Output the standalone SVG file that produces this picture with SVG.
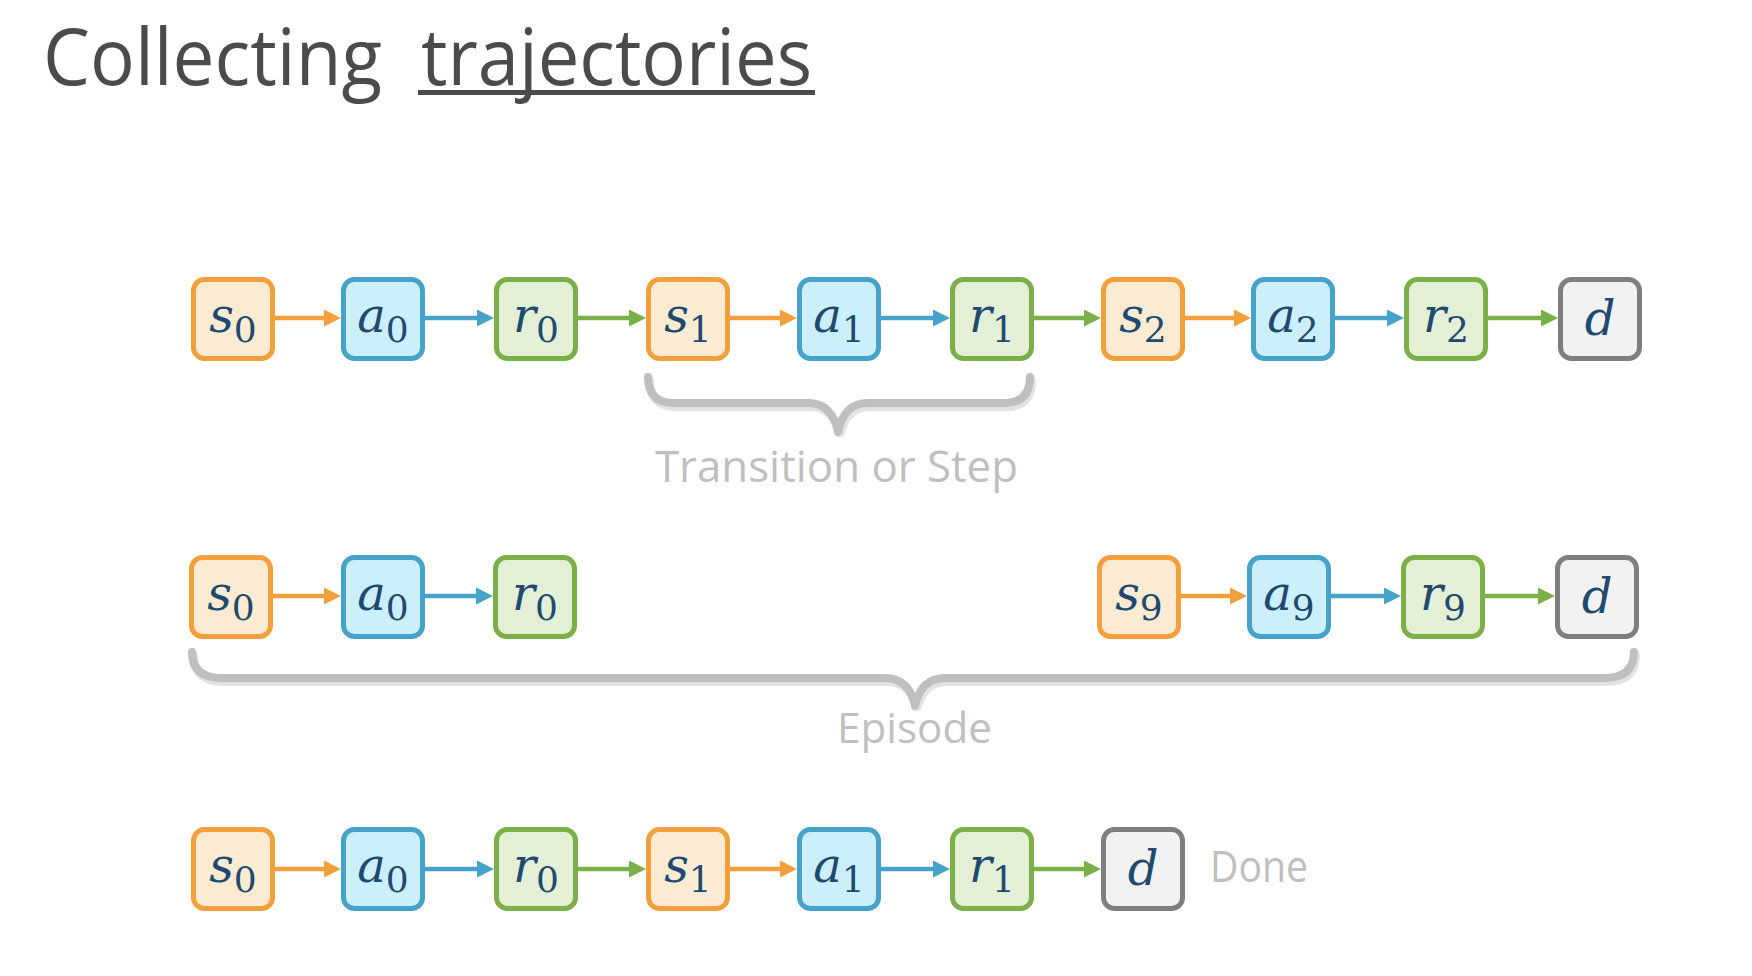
<svg xmlns="http://www.w3.org/2000/svg" width="1752" height="976" viewBox="0 0 1752 976">
<style>
.bx{stroke-width:5}
.o{fill:#FCEBD3;stroke:#F2A03D}
.b{fill:#CCF0FB;stroke:#46A2C9}
.g{fill:#E3F0D6;stroke:#7BAF47}
.k{fill:#F2F2F2;stroke:#7F7F7F}
.v{font-family:"DejaVu Serif",serif;font-style:italic;font-size:48px;fill:#1F4A70;text-anchor:middle}
.sub{font-style:normal;font-size:36px}
.lbl{font-family:"Open Sans","Liberation Sans",sans-serif;fill:#BFBFBF}
.ao{stroke:#F2A03D;stroke-width:4.5;fill:none;marker-end:url(#mo)}
.ab{stroke:#46A2C9;stroke-width:4.5;fill:none;marker-end:url(#mb)}
.ag{stroke:#7BAF47;stroke-width:4.5;fill:none;marker-end:url(#mg)}
.br{fill:none;stroke:#BFBFBF;stroke-width:8;stroke-linecap:round;stroke-linejoin:round}
.brs{fill:none;stroke:#E3E3E3;stroke-width:8;stroke-linecap:round}
</style>
<defs>
<marker id="mo" viewBox="0 0 17 17" refX="7" refY="8.5" markerWidth="17" markerHeight="17" markerUnits="userSpaceOnUse" orient="auto"><path d="M0,0 L17,8.5 L0,17 z" fill="#F2A03D"/></marker>
<marker id="mb" viewBox="0 0 17 17" refX="7" refY="8.5" markerWidth="17" markerHeight="17" markerUnits="userSpaceOnUse" orient="auto"><path d="M0,0 L17,8.5 L0,17 z" fill="#46A2C9"/></marker>
<marker id="mg" viewBox="0 0 17 17" refX="7" refY="8.5" markerWidth="17" markerHeight="17" markerUnits="userSpaceOnUse" orient="auto"><path d="M0,0 L17,8.5 L0,17 z" fill="#7BAF47"/></marker>
</defs>
<rect width="1752" height="976" fill="#FFFFFF"/>

<g id="title">
<text x="43" y="85" font-family="'Open Sans','Liberation Sans',sans-serif" font-size="78" fill="#4B4B4B" textLength="339" lengthAdjust="spacingAndGlyphs">Collecting</text>
<text x="421" y="85" font-family="'Open Sans','Liberation Sans',sans-serif" font-size="78" fill="#4B4B4B" textLength="391" lengthAdjust="spacingAndGlyphs">trajectories</text>
<rect x="418" y="90" width="397" height="5" fill="#4B4B4B"/>
</g>

<g id="connectors">
<path class="ao" d="M275 318 H331"/>
<path class="ab" d="M425 318 H484"/>
<path class="ag" d="M578 318 H636"/>
<path class="ao" d="M730 318 H787"/>
<path class="ab" d="M881 318 H940"/>
<path class="ag" d="M1034 318 H1091"/>
<path class="ao" d="M1185 318 H1241"/>
<path class="ab" d="M1335 318 H1394"/>
<path class="ag" d="M1488 318 H1548"/>
<path class="ao" d="M273 596 H331"/>
<path class="ab" d="M425 596 H483"/>
<path class="ao" d="M1181 596 H1237"/>
<path class="ab" d="M1331 596 H1391"/>
<path class="ag" d="M1485 596 H1545"/>
<path class="ao" d="M275 869 H331"/>
<path class="ab" d="M425 869 H484"/>
<path class="ag" d="M578 869 H636"/>
<path class="ao" d="M730 869 H787"/>
<path class="ab" d="M881 869 H940"/>
<path class="ag" d="M1034 869 H1091"/>
</g>

<g id="r1-s0"><rect class="bx o" x="193.5" y="279.5" width="79" height="79" rx="11"/><text class="v" x="233" y="332">s<tspan class="sub" dy="10">0</tspan></text></g>
<g id="r1-a0"><rect class="bx b" x="343.5" y="279.5" width="79" height="79" rx="11"/><text class="v" x="383" y="332">a<tspan class="sub" dy="10">0</tspan></text></g>
<g id="r1-r0"><rect class="bx g" x="496.5" y="279.5" width="79" height="79" rx="11"/><text class="v" x="536" y="332">r<tspan class="sub" dy="10">0</tspan></text></g>
<g id="r1-s1"><rect class="bx o" x="648.5" y="279.5" width="79" height="79" rx="11"/><text class="v" x="688" y="332">s<tspan class="sub" dy="10">1</tspan></text></g>
<g id="r1-a1"><rect class="bx b" x="799.5" y="279.5" width="79" height="79" rx="11"/><text class="v" x="839" y="332">a<tspan class="sub" dy="10">1</tspan></text></g>
<g id="r1-r1"><rect class="bx g" x="952.5" y="279.5" width="79" height="79" rx="11"/><text class="v" x="992" y="332">r<tspan class="sub" dy="10">1</tspan></text></g>
<g id="r1-s2"><rect class="bx o" x="1103.5" y="279.5" width="79" height="79" rx="11"/><text class="v" x="1143" y="332">s<tspan class="sub" dy="10">2</tspan></text></g>
<g id="r1-a2"><rect class="bx b" x="1253.5" y="279.5" width="79" height="79" rx="11"/><text class="v" x="1293" y="332">a<tspan class="sub" dy="10">2</tspan></text></g>
<g id="r1-r2"><rect class="bx g" x="1406.5" y="279.5" width="79" height="79" rx="11"/><text class="v" x="1446" y="332">r<tspan class="sub" dy="10">2</tspan></text></g>
<g id="r1-d"><rect class="bx k" x="1560.5" y="279.5" width="79" height="79" rx="11"/><text class="v" x="1600" y="335">d</text></g>

<g id="brace-step">
<path class="brs" d="M650 380 Q650 407 676 407 L810 407 Q834 407 840 436 Q846 407 870 407 L1006 407 Q1032 407 1032 380"/>
<path class="br" d="M648 377 Q648 403 674 403 L808 403 Q832 403 838 432 Q844 403 868 403 L1004 403 Q1030 403 1030 377"/>
<text class="lbl" x="655" y="482" font-size="44" textLength="363" lengthAdjust="spacingAndGlyphs">Transition or Step</text>
</g>

<g id="r2-s0"><rect class="bx o" x="191.5" y="557.5" width="79" height="79" rx="11"/><text class="v" x="231" y="610">s<tspan class="sub" dy="10">0</tspan></text></g>
<g id="r2-a0"><rect class="bx b" x="343.5" y="557.5" width="79" height="79" rx="11"/><text class="v" x="383" y="610">a<tspan class="sub" dy="10">0</tspan></text></g>
<g id="r2-r0"><rect class="bx g" x="495.5" y="557.5" width="79" height="79" rx="11"/><text class="v" x="535" y="610">r<tspan class="sub" dy="10">0</tspan></text></g>
<g id="r2-s9"><rect class="bx o" x="1099.5" y="557.5" width="79" height="79" rx="11"/><text class="v" x="1139" y="610">s<tspan class="sub" dy="10">9</tspan></text></g>
<g id="r2-a9"><rect class="bx b" x="1249.5" y="557.5" width="79" height="79" rx="11"/><text class="v" x="1289" y="610">a<tspan class="sub" dy="10">9</tspan></text></g>
<g id="r2-r9"><rect class="bx g" x="1403.5" y="557.5" width="79" height="79" rx="11"/><text class="v" x="1443" y="610">r<tspan class="sub" dy="10">9</tspan></text></g>
<g id="r2-d"><rect class="bx k" x="1557.5" y="557.5" width="79" height="79" rx="11"/><text class="v" x="1597" y="613">d</text></g>

<g id="brace-episode">
<path class="brs" d="M194 655 Q194 682 224 682 L887 682 Q911 682 917 710 Q923 682 947 682 L1606 682 Q1636 682 1636 655"/>
<path class="br" d="M192 652 Q192 678 222 678 L885 678 Q909 678 915 706 Q921 678 945 678 L1604 678 Q1634 678 1634 652"/>
<text class="lbl" x="837" y="743" font-size="42" textLength="155" lengthAdjust="spacingAndGlyphs">Episode</text>
</g>

<g id="r3-s0"><rect class="bx o" x="193.5" y="829.5" width="79" height="79" rx="11"/><text class="v" x="233" y="882">s<tspan class="sub" dy="10">0</tspan></text></g>
<g id="r3-a0"><rect class="bx b" x="343.5" y="829.5" width="79" height="79" rx="11"/><text class="v" x="383" y="882">a<tspan class="sub" dy="10">0</tspan></text></g>
<g id="r3-r0"><rect class="bx g" x="496.5" y="829.5" width="79" height="79" rx="11"/><text class="v" x="536" y="882">r<tspan class="sub" dy="10">0</tspan></text></g>
<g id="r3-s1"><rect class="bx o" x="648.5" y="829.5" width="79" height="79" rx="11"/><text class="v" x="688" y="882">s<tspan class="sub" dy="10">1</tspan></text></g>
<g id="r3-a1"><rect class="bx b" x="799.5" y="829.5" width="79" height="79" rx="11"/><text class="v" x="839" y="882">a<tspan class="sub" dy="10">1</tspan></text></g>
<g id="r3-r1"><rect class="bx g" x="952.5" y="829.5" width="79" height="79" rx="11"/><text class="v" x="992" y="882">r<tspan class="sub" dy="10">1</tspan></text></g>
<g id="r3-d"><rect class="bx k" x="1103.5" y="829.5" width="79" height="79" rx="11"/><text class="v" x="1143" y="885">d</text></g>
<g id="done-label"><text class="lbl" x="1210" y="882" font-size="44" textLength="98" lengthAdjust="spacingAndGlyphs">Done</text></g>
</svg>
